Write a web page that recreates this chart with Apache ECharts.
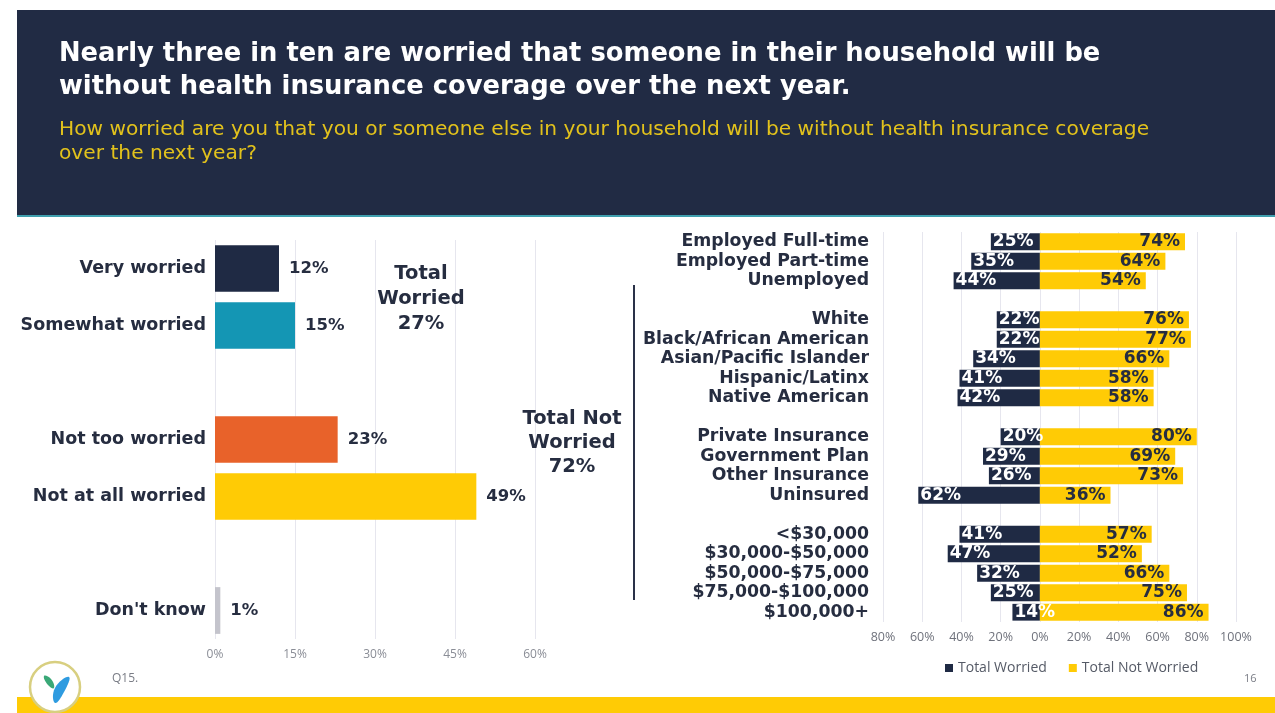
<!DOCTYPE html>
<html>
<head>
<meta charset="utf-8">
<script src="https://cdn.jsdelivr.net/npm/echarts@6/dist/echarts.min.js"></script>
<style>
  html, body { margin: 0; padding: 0; background: #ffffff; }
  #chart { width: 1275px; height: 713px; }
</style>
</head>
<body>
<div id="chart"></div>
<script>
// Overall worry level (blank strings leave gaps between the groups)
const worryCategories = ['Very worried', 'Somewhat worried', '', 'Not too worried', 'Not at all worried', '', "Don't know"];
const worryValues = [12, 15, null, 23, 49, null, 1];
const worryColors = ['#1f2a44', '#1496b4', null, '#e8622a', '#ffcb05', null, '#c4c4cc'];
const worryTicks = [0, 15, 30, 45, 60];

// Worried vs. not worried by subgroup
const groupCategories = [
  'Employed Full-time', 'Employed Part-time', 'Unemployed', '',
  'White', 'Black/African American', 'Asian/Pacific Islander', 'Hispanic/Latinx', 'Native American', '',
  'Private Insurance', 'Government Plan', 'Other Insurance', 'Uninsured', '',
  '<$30,000', '$30,000-$50,000', '$50,000-$75,000', '$75,000-$100,000', '$100,000+'
];
const totalWorried = [25, 35, 44, null, 22, 22, 34, 41, 42, null, 20, 29, 26, 62, null, 41, 47, 32, 25, 14];
const totalNotWorried = [74, 64, 54, null, 76, 77, 66, 58, 58, null, 80, 69, 73, 36, null, 57, 52, 66, 75, 86];
const groupTicks = [-80, -60, -40, -20, 0, 20, 40, 60, 80, 100];

const NAVY = '#1f2a44';
const YELLOW = '#ffcb05';
const TEXT = '#262d40';
const FONT = '"DejaVu Sans", "Open Sans", sans-serif';
const LIGHT = '"Open Sans", "DejaVu Sans", sans-serif';

const chart = echarts.init(document.getElementById('chart'), null, { renderer: 'canvas' });

const option = {
  backgroundColor: '#ffffff',
  animation: false,
  textStyle: { fontFamily: FONT },
  title: [
    {
      text: 'Nearly three in ten are worried that someone in their household will be\nwithout health insurance coverage over the next year.',
      left: 54, top: 33,
      textStyle: { color: '#ffffff', fontSize: 25.8, fontWeight: 'bold', lineHeight: 33, fontFamily: FONT }
    },
    {
      text: 'How worried are you that you or someone else in your household will be without health insurance coverage\nover the next year?',
      left: 54, top: 113,
      textStyle: { color: '#e2c21c', fontSize: 20.2, fontWeight: 'normal', lineHeight: 24, fontFamily: FONT }
    }
  ],
  legend: {
    data: ['Total Worried', 'Total Not Worried'],
    left: 940, top: 656,
    icon: 'rect', itemWidth: 8, itemHeight: 8, itemGap: 22,
    textStyle: { color: '#555a66', fontSize: 14, fontFamily: LIGHT }
  },
  grid: [
    { left: 215, right: 740, top: 240, bottom: 74 },
    { left: 883, right: 39, top: 232, bottom: 91 }
  ],
  xAxis: [
    {
      gridIndex: 0, type: 'value', min: 0, max: 60, interval: 15,
      axisLine: { show: false }, axisTick: { show: false },
      splitLine: { lineStyle: { color: '#e6e6ee', width: 1 } },
      axisLabel: { formatter: '{value}%', color: '#8a8d96', fontSize: 12, margin: 10, fontFamily: LIGHT }
    },
    {
      gridIndex: 1, type: 'value', min: -80, max: 100, interval: 20,
      axisLine: { show: false }, axisTick: { show: false },
      splitLine: { lineStyle: { color: '#e6e6ee', width: 1 } },
      axisLabel: { formatter: v => Math.abs(v) + '%', color: '#6f727c', fontSize: 12.5, margin: 9, fontFamily: LIGHT }
    }
  ],
  yAxis: [
    {
      gridIndex: 0, type: 'category', data: worryCategories, inverse: true,
      axisLine: { show: false }, axisTick: { show: false },
      axisLabel: { color: TEXT, fontSize: 17.5, fontWeight: 'bold', margin: 9, interval: 0 }
    },
    {
      gridIndex: 1, type: 'category', data: groupCategories, inverse: true,
      axisLine: { show: false }, axisTick: { show: false },
      axisLabel: { color: TEXT, fontSize: 17.3, fontWeight: 'bold', margin: 14, interval: 0, lineHeight: 18 }
    }
  ],
  series: [
    {
      type: 'bar', xAxisIndex: 0, yAxisIndex: 0,
      barCategoryGap: '18%',
      data: worryValues.map((v, i) => ({ value: v, itemStyle: { color: worryColors[i] } })),
      label: {
        show: true, position: 'right', distance: 10,
        formatter: p => p.value == null ? '' : p.value + '%',
        color: TEXT, fontSize: 16.5, fontWeight: 'bold'
      }
    },
    {
      name: 'Total Worried', type: 'bar', stack: 'groups',
      xAxisIndex: 1, yAxisIndex: 1, barCategoryGap: '14%',
      itemStyle: { color: NAVY },
      data: totalWorried.map(v => v == null ? null : -v),
      label: {
        show: true, position: 'insideLeft', distance: 2,
        formatter: p => p.value == null ? '' : Math.abs(p.value) + '%',
        color: '#ffffff', fontSize: 17, fontWeight: 'bold'
      }
    },
    {
      name: 'Total Not Worried', type: 'bar', stack: 'groups',
      xAxisIndex: 1, yAxisIndex: 1, barCategoryGap: '14%',
      itemStyle: { color: YELLOW },
      data: totalNotWorried,
      label: {
        show: true, position: 'insideRight', distance: 5,
        formatter: p => p.value == null ? '' : p.value + '%',
        color: TEXT, fontSize: 17, fontWeight: 'bold'
      }
    }
  ],
  graphic: [
    // header panel
    { type: 'rect', z: -10, shape: { x: 17, y: 10, width: 1258, height: 206 }, style: { fill: '#212b44' } },
    { type: 'rect', z: -10, shape: { x: 17, y: 215, width: 1258, height: 2 }, style: { fill: '#3f9fae' } },
    // footer band
    { type: 'rect', z: -10, shape: { x: 17, y: 697, width: 1258, height: 16 }, style: { fill: '#ffcb05' } },
    // group summaries
    {
      type: 'text', z: 10,
      style: { x: 421, y: 261, text: 'Total\nWorried\n27%', align: 'center', fill: TEXT,
               font: 'bold 19.5px ' + FONT, lineHeight: 25 }
    },
    {
      type: 'text', z: 10,
      style: { x: 572, y: 407, text: 'Total Not\nWorried\n72%', align: 'center', fill: TEXT,
               font: 'bold 19.5px ' + FONT, lineHeight: 24 }
    },
    // divider between the two panels
    { type: 'rect', shape: { x: 633, y: 285, width: 2, height: 315 }, style: { fill: '#2a3148' } },
    // footnote and page number
    { type: 'text', style: { x: 112, y: 673, text: 'Q15.', fill: '#7a7d86', font: '12px ' + LIGHT } },
    { type: 'text', style: { x: 1244, y: 673, text: '16', fill: '#7a7d86', font: '11px ' + LIGHT } },
    // logo badge
    { type: 'circle', shape: { cx: 55, cy: 687, r: 25 }, style: { fill: '#ffffff', stroke: '#d8cf80', lineWidth: 2.5 } },
    { type: 'polygon', shape: { points: [[44, 676], [51, 679], [54, 688], [48, 685]], smooth: 0.5 }, style: { fill: '#3aa877' } },
    { type: 'polygon', shape: { points: [[69, 677], [64, 692], [55, 703], [55, 688]], smooth: 0.5 }, style: { fill: '#2e9be0' } }
  ]
};

chart.setOption(option);
</script>
</body>
</html>
